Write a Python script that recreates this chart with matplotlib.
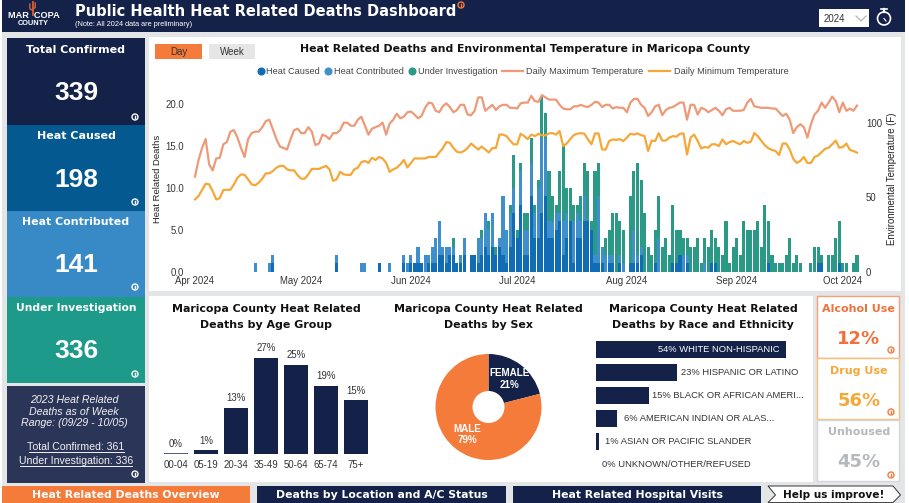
import matplotlib
matplotlib.use("Agg")
import matplotlib.pyplot as plt
import pandas as pd
from matplotlib.patches import Rectangle, Polygon, Circle

W, H = 909, 503
NAVY = "#14224a"; ORANGE = "#f47b3a"; CAUSED = "#0f6cb5"; CONTRIB = "#3f8fcc"; INVEST = "#2a9a86"
MAXC = "#ee9a78"; MINC = "#f5a738"; GREY = "#e4e5e7"
HEAD = "DejaVu Sans"; BODY = "Liberation Sans"

dates = pd.date_range("2024-04-01", periods=188)
month_ticks = pd.date_range("2024-04-01", "2024-10-01", freq="MS")

caused = [0]*10 + [0]*10 + [0,0,1,0,0,0,0,0,0,0] + [0]*10 + [1,0,0,0,0,0,0,0,0,0] + [0,0,1,0,0,0,0,0,0,1] \
    + [0,1,1,1,1,0,1,1,1,2] + [2,1,2,2,1,1,2,0,2,2] + [1,2,3,2,3,2,3,2,1,3] + [7,4,8,2,2,9,4,4,7,9] \
    + [4,4,5,6,2,4,6,1,4,4] + [6,6,5,1,1,1,0,1,1,0] + [1,0,0,1,1,1,2,0,0,0] + [1,0,0,0,0,1,1,2,0,1] \
    + [0,0,0,0,0,0,1,1,0,0] + [0]*10 + [0,0,1,0,0,0,0,0,0,0] + [0,0,0,0,0,0,1,1,0,0] + [0,0,1,0,0,0,0,0]
contributed = [0]*10 + [0,0,0,0,0,0,0,1,0,0] + [0,1,1,0,0,0,0,0,0,0] + [0]*10 + [1,0,0,0,0,0,0,1,1,0] + [0,0,0,0,0,1,0,0,0,1] \
    + [1,1,0,2,0,2,1,2,3,4] + [1,2,1,1,0,1,2,0,0,0] + [3,2,4,3,4,0,1,7,4,4] + [3,0,4,3,3,4,3,6,9,7] \
    + [2,2,2,1,4,3,0,5,3,2] + [3,0,0,1,8,2,2,1,1,0] + [1,1,0,0,4,1,1,0,0,0] + [0,4,0,0,0,0,0,0,2,1] \
    + [0,0,0,0,1,0,0,0,0,0] + [0]*38
investigation = [0]*60 + [0]*10 + [0,0,0,1,0,0,0,0,0,0] + [0,1,0,1,0,1,0,0,0,1] + [4,1,1,2,2,3,1,1,5,3] \
    + [6,3,1,5,9,3,4,2,1,3] + [4,6,1,10,4,0,2,3,5,7] + [4,4,0,8,7,11,8,7,3,2] + [4,5,3,4,2,7,4,3,2,2] \
    + [3,3,4,1,3,3,4,3,3,2] + [6,1,3,4,2,6,5,5,5,6] + [3,8,5,2,1,1,1,2,4,1] + [2,1,0,0,1,3,2,1,0,2] + [2,4,5,1,1,0,1,2]

temp_max = [63.8,75,83,89,72,68,76,76.5,85.5,87, 94,95,90,83,77,89,93,94,94,97,
    101,102,95.5,89,84,83,82,89,95,96, 93,93,97,94,85,86,92,91,89,93,
    93,95,100,100,98,98,102,104,98,92, 96,97,98,100,92,99.5,102,106,103,104,
    107,107.5,105.5,103,104.5,110,113.5,113,108,107, 111,113,110.5,107,108.5,112,112,105.5,105,108,
    117,117,108,110,112,108.5,111,112,112,110, 110,109.5,113,113.5,113.5,118,114.5,114,118.5,117,
    115.5,115.5,115.5,112,109.5,109,109,111,111,112, 111,110.5,112,114,113.5,110.5,112,112,109.5,110.5,
    110,110,107,113.5,116,116,112,110,104.5,107, 111,112,105,108.5,110,110.5,112,113.5,113.5,102,
    112,112,105.5,110,109,107,108.5,110,108,105, 109,110,108,108,108,108.5,113.5,116,111,110.5,
    110,110,110,109.5,109.5,107,104.5,106,102,93, 97,99,97,90,99,105.5,108,113.5,110,113.5,
    117.5,114.5,107,113.5,108,109.5,108,111.5]
temp_min = [48.5,50.8,54.8,59,58.6,54,48.5,49.4,54.8,55, 55,58.6,63,65.3,65,62,58.6,58,59.7,62.4,
    66,66,67.6,69.8,71,71,68.7,68,68,64.7, 62.4,62.4,65.3,69,69,69,70,71,68.7,61,
    62,67,65.3,65,65,68.7,69.8,73.6,74.3,73, 76.5,75,77,76,73,67,68.7,69.8,72,75,
    70,73,76,76,76,76,77,77,77,80, 82.8,87,86.5,83,80.5,80,81,83,86,84,
    82,84,82,80,83,83,92,92,91,88, 85.5,85.5,92.6,91,89,92,91,92.6,91.5,91.5,
    92.8,93,92,94.4,84.3,86,89,91.7,92.6,93, 92.6,88.8,85.5,92.8,92.8,82,82,87.7,88.8,88.4,
    89,87.7,90,92.6,92,92.8,91.7,91,81,88, 87.7,93,88,88,90,91,90.6,92.6,92.8,78.7,
    90,92,87.7,82.8,83.7,83.2,85.5,85.5,84.3,88.8, 85.5,87,87.7,86.5,85.5,87.7,86.5,87.2,93,91,
    87.7,84.8,82.8,81.7,81,78.3,86,86,82,75.8, 73,74.3,77,73,73,77,78,80.3,82.5,83.2,
    85.5,88,83.2,83.7,86,81.7,81,79.9]
assert all(len(s) == 188 for s in (caused, contributed, investigation, temp_max, temp_min))

legend_bars = ["Heat Caused", "Heat Contributed", "Under Investigation"]
legend_lines = ["Daily Maximum Temperature", "Daily Minimum Temperature"]

age_groups = ["00-04", "05-19", "20-34", "35-49", "50-64", "65-74", "75+"]
age_pct = [0, 1, 13, 27, 25, 19, 15]
sex_labels = ["FEMALE", "MALE"]
sex_pct = [21, 79]
race_labels = ["WHITE NON-HISPANIC", "HISPANIC OR LATINO", "BLACK OR AFRICAN AMERI...",
               "AMERICAN INDIAN OR ALAS...", "ASIAN OR PACIFIC SLANDER", "UNKNOWN/OTHER/REFUSED"]
race_pct = [54, 23, 15, 6, 1, 0]

kpi_names = ["Total Confirmed", "Heat Caused", "Heat Contributed", "Under Investigation"]
kpi_values = [339, 198, 141, 336]
use_names = ["Alcohol Use", "Drug Use", "Unhoused"]
use_pct = [12, 56, 45]
nav_labels = ["Heat Related Deaths Overview", "Deaths by Location and A/C Status", "Heat Related Hospital Visits"]

fig = plt.figure(figsize=(W/100, H/100), dpi=100, facecolor="white")
bg = fig.add_axes([0, 0, 1, 1], zorder=0)
bg.set_xlim(0, W); bg.set_ylim(H, 0); bg.axis("off")
top = fig.add_axes([0, 0, 1, 1], zorder=5, frameon=False)
top.set_xlim(0, W); top.set_ylim(H, 0); top.axis("off")


def ax_px(x0, y0, x1, y1, **kw):
    return fig.add_axes([x0/W, 1-y1/H, (x1-x0)/W, (y1-y0)/H], **kw)


def box(x0, y0, x1, y1, fc, ec="none", lw=0, z=1):
    bg.add_patch(Rectangle((x0, y0), x1-x0, y1-y0, fc=fc, ec=ec, lw=lw, zorder=z))


def txt(x, y, s, size, color="#111111", weight="normal", family=BODY, ha="center", style="normal"):
    top.text(x, y, s, fontsize=size, color=color, fontweight=weight, family=family, ha=ha,
             va="center", style=style)


def info(x, y, color):
    top.add_patch(Circle((x, y), 3.0, fc="none", ec=color, lw=1.0))
    top.plot([x, x], [y-1.4, y+1.4], color=color, lw=1.0)


# page furniture
box(2, 0, 905, 503, GREY)
box(2, 0, 905, 32, NAVY, z=2)
box(149, 37, 901, 291, "white")
box(149, 296, 813, 482, "white")
for (y0, y1, c) in [(38, 125, NAVY), (125, 211, "#045a90"), (211, 297, "#378ac5"), (297, 383, "#1e9a8a"), (386, 483, "#2b3558")]:
    box(7, y0, 145, y1, c, z=2)

# header
txt(75, 11.5, "Public Health Heat Related Deaths Dashboard", 10.5, "white", "bold", HEAD, ha="left")
txt(75, 24.5, "(Note: All 2024 data are preliminary)", 5.3, "white", "normal", BODY, ha="left")
info(461, 5, ORANGE)
txt(33.5, 15, "MAR  COPA", 6.6, "white", "bold", BODY)
txt(33.5, 23, "COUNTY", 5.3, "white", "bold", BODY)
top.plot([32.5, 32.5], [2, 15], color="#d9602f", lw=1.3)
top.plot([29.8, 29.8, 32.5], [4, 8.5, 10.5], color="#d9602f", lw=1.0)
top.plot([35.2, 35.2, 32.5], [3, 7.5, 9.5], color="#d9602f", lw=1.0)
box(819, 9, 869, 27, "white", z=3)
txt(824, 18.5, "2024", 7.0, "#333333", ha="left")
top.plot([856, 861, 866], [16, 21, 16], color="#b8b8b8", lw=0.9)
top.add_patch(Circle((884, 18.5), 6.5, fc="none", ec="white", lw=1.2))
top.plot([884, 884], [9, 12], color="white", lw=1.6)
top.plot([881, 887], [9, 9], color="white", lw=1.2)
top.plot([884, 886], [18.5, 21], color="white", lw=0.8)

# KPI cards
for name, val, yt, yv, yi, fs in zip(kpi_names, kpi_values, [50, 136, 222, 308], [93, 180, 265, 351],
                                     [117, 202, 287, 374], [8.0, 8.0, 7.9, 7.75]):
    txt(76, yt, name, fs, "white", "bold", HEAD)
    txt(76, yv, str(val), 19, "white", "bold", BODY)
    info(135, yi, "white")
for y, s in zip([400, 412, 423], ["2023 Heat Related", "Deaths as of Week", "Range: (09/29 - 10/05)"]):
    txt(74, y, s, 7.7, "#f2f2f2", style="italic")
txt(76, 447, "Total Confirmed: 361", 7.6, "#f2f2f2")
txt(76, 461, "Under Investigation: 336", 7.6, "#f2f2f2")
top.plot([29, 124], [451.5, 451.5], color="#f2f2f2", lw=0.7)
top.plot([20, 132], [465.5, 465.5], color="#f2f2f2", lw=0.7)
info(135, 474, "white")

# main chart controls and title
box(155, 44, 202, 59, ORANGE, z=2)
box(209, 44, 255, 59, "#e6e6e6", z=2)
txt(178.5, 51.5, "Day", 7.0, "#333333")
txt(232, 51.5, "Week", 7.0, "#333333")
txt(525, 49, "Heat Related Deaths and Environmental Temperature in Maricopa County", 7.85, "#111111", "bold", HEAD)

# legend row
for name, c, xc, xt in zip(legend_bars, [CAUSED, CONTRIB, INVEST], [260.7, 328, 412], [266, 333.5, 418]):
    top.plot([xc], [71], "o", color=c, ms=4.8)
    txt(xt, 71, name, 6.6, "#444444", ha="left")
for name, c, x0, xt in zip(legend_lines, [MAXC, MINC], [501.5, 648.5], [526.5, 673.5]):
    top.plot([x0, x0+21], [71, 71], color=c, lw=1.6)
    txt(xt, 71, name, 6.6, "#444444", ha="left")

# main chart
PX_DAY = 3.54
ax = ax_px(188, 90, 864, 271.7, zorder=2)
ax.patch.set_alpha(0)
xl = (dates[0] - pd.Timedelta(days=(195-188)/PX_DAY), dates[0] + pd.Timedelta(days=(864-195)/PX_DAY))
bot2 = [a+b for a, b in zip(caused, contributed)]
ax.bar(dates, caused, width=0.86, color=CAUSED)
ax.bar(dates, contributed, bottom=caused, width=0.86, color=CONTRIB)
ax.bar(dates, investigation, bottom=bot2, width=0.86, color=INVEST)
ax.set_xlim(xl)
ax.set_ylim(0, 181.7/8.37)
ax.set_yticks([0, 5, 10, 15, 20])
ax.set_yticklabels(["0.0", "5.0", "10.0", "15.0", "20.0"], family=BODY, fontsize=6.9, color="#333333")
ax.set_xticks(month_ticks)
ax.set_xticklabels([d.strftime("%b %Y") for d in month_ticks], family=BODY, fontsize=6.9, color="#333333")
ax.tick_params(axis="x", length=0, pad=3.2)
ax.tick_params(axis="y", length=0, pad=3)
for s in ax.spines.values():
    s.set_visible(False)
ax2 = ax.twinx()
ax2.plot(dates, temp_max, color=MAXC, lw=1.6, solid_joinstyle="round")
ax2.plot(dates, temp_min, color=MINC, lw=1.6, solid_joinstyle="round")
ax2.set_ylim(0, 181.7/1.49)
ax2.set_yticks([0, 50, 100])
ax2.set_yticklabels(["0", "50", "100"], family=BODY, fontsize=6.9, color="#333333")
ax2.tick_params(length=0, pad=1.5)
for s in ax2.spines.values():
    s.set_visible(False)
top.text(157, 179, "Heat Related Deaths", rotation=90, fontsize=6.8, family=BODY, color="#222222", ha="center", va="center")
top.text(892, 179, "Environmental Temperature (F)", rotation=90, fontsize=6.9, family=BODY, color="#222222", ha="center", va="center")

# titles of lower panels
for xc, second in zip([266, 488, 703], ["Deaths by Age Group", "Deaths by Sex", "Deaths by Race and Ethnicity"]):
    txt(xc, 309, "Maricopa County Heat Related", 7.9, "#111111", "bold", HEAD)
    txt(xc, 325, second, 7.9, "#111111", "bold", HEAD)

# age group
axa = ax_px(161, 340, 371, 454, zorder=2)
axa.patch.set_alpha(0)
xs = range(len(age_groups))
bars = axa.bar(xs, age_pct, width=0.77, color=NAVY)
axa.bar([0], [0.35], width=0.77, color="#555f7a")
axa.bar_label(bars, labels=[f"{v}%" for v in age_pct], padding=3.5, family=BODY, fontsize=6.9, color="#333333")
axa.set_xlim(-0.5, 6.5)
axa.set_ylim(0, 114/3.57)
axa.set_xticks(list(xs))
axa.set_xticklabels(age_groups, family=BODY, fontsize=6.9, color="#333333")
axa.set_yticks([])
axa.tick_params(length=0, pad=4)
for s in axa.spines.values():
    s.set_visible(False)

# sex donut
axp = ax_px(435.5, 354, 541.5, 460, zorder=2)
axp.pie(sex_pct, colors=[NAVY, ORANGE], startangle=90, counterclock=False, radius=1,
        wedgeprops=dict(width=1-16/53, linewidth=0))
axp.set_xlim(-1, 1); axp.set_ylim(-1, 1)
txt(509, 373, sex_labels[0], 7.1, "white", "bold")
txt(509, 384.5, f"{sex_pct[0]}%", 7.1, "white", "bold")
txt(467, 429, sex_labels[1], 7.1, "white", "bold")
txt(467, 440, f"{sex_pct[1]}%", 7.1, "white", "bold")

# race bars
axr = ax_px(595.7, 338.2, 800, 476.2, zorder=2)
axr.patch.set_alpha(0)
ys = list(range(len(race_labels)))
axr.barh(ys, [max(v, 0.2) for v in race_pct], height=0.75, color=NAVY)
axr.set_ylim(5.5, -0.5)
axr.set_xlim(0, 204.3/3.52)
axr.axis("off")
race_txt_x = [779, 681, 652, 624, 604.7, 602]
for i, (lab, v, xt) in enumerate(zip(race_labels, race_pct, race_txt_x)):
    if i == 0:
        txt(xt, 349.7, f"{v}% {lab}", 6.75, "white", ha="right")
    else:
        txt(xt, 349.7 + 23*i, f"{v}% {lab}", 6.75, "#333333", ha="left")

# right-hand use cards
for (y0, y1, ec) in [(296, 358, "#f4a07a"), (358, 419, "#f7c078"), (420, 481, "#d4d6d9")]:
    box(817, y0, 899, y1, "white", ec, 1.0, z=2)
for name, v, c, yt, yv, yi in zip(use_names, use_pct, ["#f0713a", "#f5a738", "#b5b8bc"],
                                  [309, 371, 432], [339, 401, 462], [350, 412, 475]):
    txt(858.7, yt, name, 8.0, c, "bold", HEAD)
    txt(858.7, yv, f"{v}%", 13, c, "bold", HEAD)
    info(891, yi, ORANGE)

# navigation row
box(2, 486, 250, 503, ORANGE, z=2)
box(257, 486, 506, 503, NAVY, z=2)
box(513, 486, 761, 503, NAVY, z=2)
for xc, s in zip([126, 382, 637], nav_labels):
    txt(xc, 495, s, 7.85, "white", "bold", HEAD)
bg.add_patch(Polygon([(768, 486), (893, 486), (900.5, 495), (893, 502.6), (768, 502.6), (775.5, 495)],
                     fc="white", ec="#333333", lw=0.7, zorder=3))
txt(834, 495, "Help us improve!", 7.6, "#111111", "bold", HEAD)

fig.savefig("out.png", dpi=100)
